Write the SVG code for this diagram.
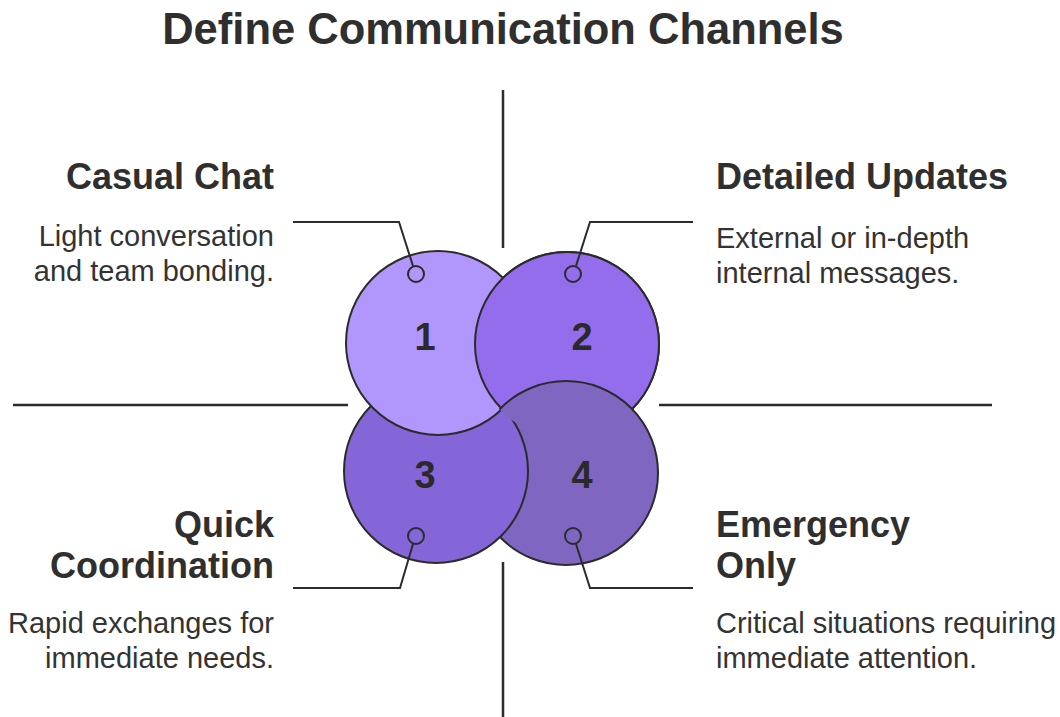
<svg xmlns="http://www.w3.org/2000/svg" width="1060" height="717" viewBox="0 0 1060 717">
  <defs>
    <style>
      .title { font-family: "Liberation Sans", Arial, sans-serif; font-weight: bold; font-size: 43.5px; fill: #2f2f2f; }
      .head { font-family: "Liberation Sans", Arial, sans-serif; font-weight: bold; font-size: 36px; fill: #2f2f2f; }
      .body { font-family: "Liberation Sans", Arial, sans-serif; font-size: 29px; fill: #333333; }
      .num { font-family: "Liberation Sans", Arial, sans-serif; font-weight: bold; font-size: 38px; fill: #2a2a2a; text-anchor: middle; }
      .axis { stroke: #2b2b2b; stroke-width: 2.5; fill: none; }
      .leader { stroke: #2b2b2b; stroke-width: 2; fill: none; }
      .ring { stroke: #2b2b2b; stroke-width: 2; }
      .dot { fill: none; stroke: #2b2b2b; stroke-width: 2; }
      .c1 { fill: #B196FB; }
      .c2 { fill: #946DED; }
      .c3 { fill: #8466D8; }
      .c4 { fill: #7F67C1; }
    </style>
    <clipPath id="clipC2">
      <circle cx="567" cy="344" r="94"/>
    </clipPath>
  </defs>

  <rect width="1060" height="717" fill="#ffffff"/>

  <text class="title" x="503" y="44" text-anchor="middle">Define Communication Channels</text>

  <!-- quadrant axes -->
  <g id="axes">
    <line class="axis" x1="503" y1="90" x2="503" y2="248"/>
    <line class="axis" x1="503" y1="562" x2="503" y2="717"/>
    <line class="axis" x1="13" y1="405" x2="348" y2="405"/>
    <line class="axis" x1="659" y1="405" x2="992" y2="405"/>
  </g>

  <!-- overlapping circles: 2 under 4, 4 under 3, 3 under 1, 1 under 2 -->
  <g id="circles">
    <circle class="ring c2" cx="567" cy="344" r="92"/>
    <circle class="ring c4" cx="566" cy="473" r="92"/>
    <circle class="ring c3" cx="436" cy="471" r="92"/>
    <circle class="ring c1" cx="438" cy="343" r="92"/>
    <g clip-path="url(#clipC2)">
      <circle class="ring c2" cx="567" cy="344" r="92"/>
      <circle class="ring c4" cx="566" cy="473" r="92"/>
    </g>
  </g>

  <!-- connectors -->
  <g id="connectors">
    <polyline class="leader" points="293,222 399,222 413,266"/>
    <polyline class="leader" points="693,222 590,222 576,266"/>
    <polyline class="leader" points="293,588 400,588 413,544"/>
    <polyline class="leader" points="693,588 590,588 576,544"/>
  </g>

  <g id="node-1">
    <circle class="dot" cx="416" cy="274" r="8"/>
    <text class="num" x="425" y="350">1</text>
    <text class="head" x="274" y="189" text-anchor="end">Casual Chat</text>
    <text class="body" x="274" y="246" text-anchor="end">Light conversation</text>
    <text class="body" x="274" y="281" text-anchor="end">and team bonding.</text>
  </g>

  <g id="node-2">
    <circle class="dot" cx="573" cy="274" r="8"/>
    <text class="num" x="582" y="350">2</text>
    <text class="head" x="716" y="189">Detailed Updates</text>
    <text class="body" x="716" y="248">External or in-depth</text>
    <text class="body" x="716" y="283">internal messages.</text>
  </g>

  <g id="node-3">
    <circle class="dot" cx="416" cy="536" r="8"/>
    <text class="num" x="425" y="488">3</text>
    <text class="head" x="274" y="537" text-anchor="end">Quick</text>
    <text class="head" x="274" y="578" text-anchor="end">Coordination</text>
    <text class="body" x="274" y="633" text-anchor="end">Rapid exchanges for</text>
    <text class="body" x="274" y="668" text-anchor="end">immediate needs.</text>
  </g>

  <g id="node-4">
    <circle class="dot" cx="573" cy="536" r="8"/>
    <text class="num" x="582" y="488">4</text>
    <text class="head" x="716" y="537">Emergency</text>
    <text class="head" x="716" y="578">Only</text>
    <text class="body" x="716" y="633">Critical situations requiring</text>
    <text class="body" x="716" y="668">immediate attention.</text>
  </g>
</svg>
